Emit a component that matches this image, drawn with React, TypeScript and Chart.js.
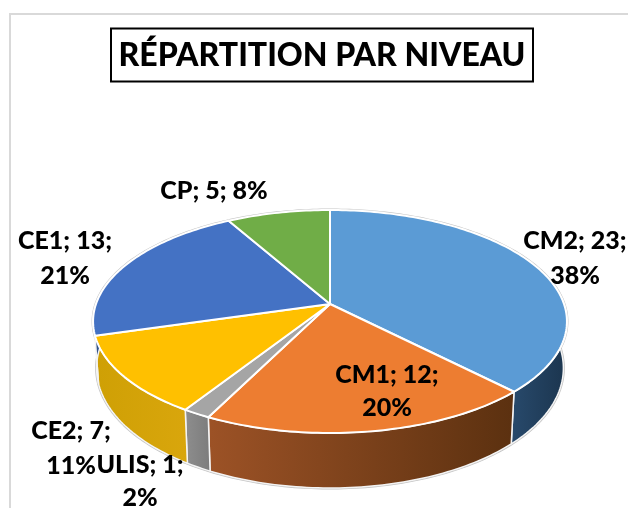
import React, { useEffect, useRef } from "react";
import { Chart, registerables } from "chart.js";

Chart.register(...registerables);

const TITLE = "RÉPARTITION PAR NIVEAU";
const categories = ["CM2", "CM1", "ULIS", "CE2", "CE1", "CP"];
const values = [23, 12, 1, 7, 13, 5];
const topColors = ["#5B9BD5", "#ED7D31", "#A5A5A5", "#FFC000", "#4472C4", "#70AD47"];
const wallColorsFrom = ["#284A6C", "#9C5226", "#8C8C8C", "#D9A60C", "#33558F", "#54803A"];
const wallColorsTo = ["#1C3650", "#5C3110", "#7C7C7C", "#CFA005", "#2B4A7C", "#4A7233"];
const labelAnchors = [
  { x: 575, y: 241, wrap: true, gap: 35 },
  { x: 387, y: 375, wrap: true, gap: 33 },
  { x: 140, y: 465, wrap: true, gap: 33 },
  { x: 71, y: 431, wrap: true, gap: 35 },
  { x: 65, y: 241, wrap: true, gap: 35 },
  { x: 214, y: 191, wrap: false, gap: 0 },
];

const FONT = "Lato";
const CX = 330, CY = 304, RX = 234, RY = 108.75, PERSP = 0.157;
const DEPTH_BASE = 45, DEPTH_FRONT = 10, BOTTOM_SHRINK = 0.985;

function topPt(a: number) {
  const u = Math.cos(a), v = Math.sin(a), w = 1 - PERSP * v;
  return [CX + (RX * u) / w, CY + (RY * v) / w];
}
function botPt(a: number) {
  const u = Math.cos(a), v = Math.sin(a), w = 1 - PERSP * v;
  return [CX + (RX * BOTTOM_SHRINK * u) / w, CY + (RY * v) / w + DEPTH_BASE + DEPTH_FRONT * v];
}
function angles(a0: number, a1: number) {
  const n = Math.max(2, Math.ceil((a1 - a0) / 0.02));
  const out: number[] = [];
  for (let i = 0; i <= n; i++) out.push(a0 + ((a1 - a0) * i) / n);
  return out;
}

const pie3d = {
  id: "pie3d",
  beforeDraw(chart: any) {
    const { ctx } = chart;
    ctx.save();
    ctx.fillStyle = "#ffffff";
    ctx.fillRect(0, 0, chart.width, chart.height);
    ctx.strokeStyle = "#D9D9D9";
    ctx.lineWidth = 2;
    ctx.beginPath();
    ctx.moveTo(10, chart.height);
    ctx.lineTo(10, 14);
    ctx.lineTo(chart.width, 14);
    ctx.stroke();
    ctx.restore();
  },
  beforeDatasetsDraw(chart: any) {
    const { ctx } = chart;
    const arcs = chart.getDatasetMeta(0).data;
    ctx.save();
    ctx.lineJoin = "round";

    // silhouette
    ctx.strokeStyle = "#C4C4C4";
    ctx.lineWidth = 3;
    ctx.beginPath();
    angles(0, Math.PI * 2).forEach((a, i) => {
      const [x, y] = topPt(a);
      i ? ctx.lineTo(x, y) : ctx.moveTo(x, y);
    });
    ctx.closePath();
    ctx.stroke();
    ctx.beginPath();
    angles(-0.05, Math.PI + 0.05).forEach((a, i) => {
      const [x, y] = botPt(a);
      i ? ctx.lineTo(x, y) : ctx.moveTo(x, y);
    });
    ctx.stroke();

    // outer walls
    arcs.forEach((arc: any, i: number) => {
      const a0 = Math.max(arc.startAngle, -0.05);
      const a1 = Math.min(arc.endAngle, Math.PI + 0.05);
      if (a1 <= a0) return;
      const list = angles(a0, a1);
      const xs = list.map((a) => botPt(a)[0]);
      const g = ctx.createLinearGradient(Math.min(...xs), 0, Math.max(...xs), 0);
      g.addColorStop(0, i === 3 ? wallColorsTo[i] : wallColorsFrom[i]);
      g.addColorStop(1, i === 3 ? wallColorsFrom[i] : wallColorsTo[i]);
      ctx.beginPath();
      list.forEach((a, j) => {
        const [x, y] = topPt(a);
        j ? ctx.lineTo(x, y) : ctx.moveTo(x, y);
      });
      list.slice().reverse().forEach((a) => {
        const [x, y] = botPt(a);
        ctx.lineTo(x, y);
      });
      ctx.closePath();
      ctx.fillStyle = g;
      ctx.fill();
      ctx.strokeStyle = "#F4F4F4";
      ctx.lineWidth = 1.5;
      ctx.stroke();
    });

    // top faces
    arcs.forEach((arc: any, i: number) => {
      ctx.beginPath();
      ctx.moveTo(CX, CY);
      angles(arc.startAngle, arc.endAngle).forEach((a) => {
        const [x, y] = topPt(a);
        ctx.lineTo(x, y);
      });
      ctx.closePath();
      ctx.fillStyle = topColors[i];
      ctx.fill();
      ctx.strokeStyle = "#ffffff";
      ctx.lineWidth = 2;
      ctx.stroke();
    });
    ctx.restore();
    return false;
  },
  afterDraw(chart: any) {
    const { ctx } = chart;
    const total = values.reduce((s, v) => s + v, 0);
    ctx.save();
    // title frame
    ctx.strokeStyle = "#000000";
    ctx.lineWidth = 2;
    ctx.strokeRect(111, 28.5, 422, 53);
    // data labels
    ctx.fillStyle = "#000000";
    ctx.font = `900 25px ${FONT}`;
    ctx.textAlign = "center";
    ctx.textBaseline = "middle";
    categories.forEach((c, i) => {
      const pct = `${Math.round((values[i] / total) * 100)}%`;
      const p = labelAnchors[i];
      if (p.wrap) {
        ctx.fillText(`${c}; ${values[i]};`, p.x, p.y);
        ctx.fillText(pct, p.x, p.y + p.gap);
      } else {
        ctx.fillText(`${c}; ${values[i]}; ${pct}`, p.x, p.y);
      }
    });
    ctx.restore();
  },
};

export default function App() {
  const ref = useRef<HTMLCanvasElement>(null);
  useEffect(() => {
    const chart = new Chart(ref.current as HTMLCanvasElement, {
      type: "pie",
      data: {
        labels: categories,
        datasets: [{ data: values, backgroundColor: topColors, borderColor: "#ffffff" }],
      },
      options: {
        animation: false,
        responsive: false,
        rotation: 0,
        layout: { padding: { left: 16, top: 36 } },
        plugins: {
          legend: { display: false },
          tooltip: { enabled: false },
          title: {
            display: true,
            text: TITLE,
            color: "#000000",
            font: { family: FONT, size: 32, weight: "900" },
            padding: { top: 0, bottom: 10 },
          },
        },
      },
      plugins: [pie3d],
    } as any);
    return () => chart.destroy();
  }, []);
  return (
    <div style={{ position: "absolute", left: 0, top: 0, width: 628, height: 508 }}>
      <canvas ref={ref} width={628} height={508} style={{ display: "block" }} />
    </div>
  );
}
